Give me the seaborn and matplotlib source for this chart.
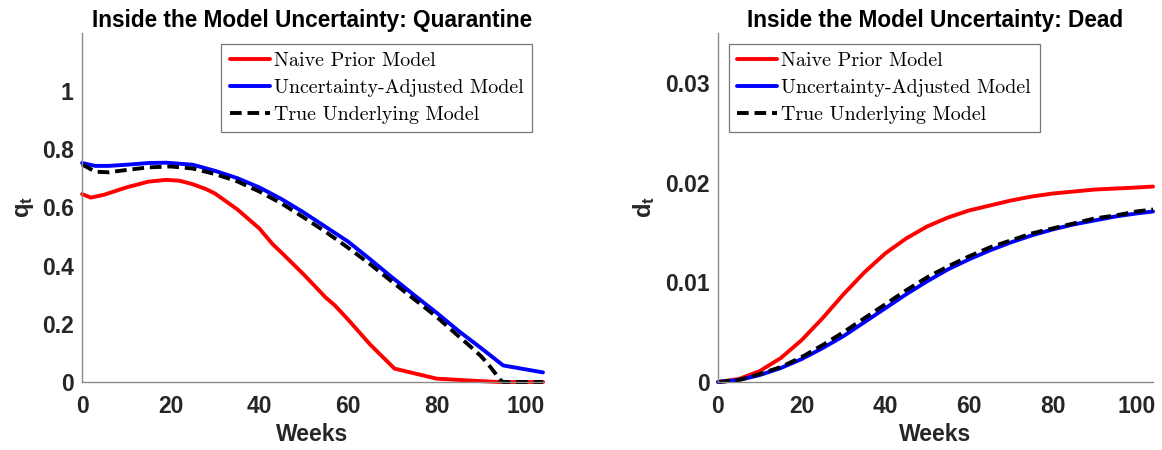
import pandas as pd
import matplotlib
matplotlib.use("Agg")
import matplotlib.pyplot as plt
import seaborn as sns

# -----------------------------------
# DATA
# -----------------------------------

# quarantine panel
q_naive_weeks = [0, 2, 5, 10, 15, 19, 22, 25, 28, 30, 35, 40, 43, 45, 50, 55,
                 57, 60, 65, 70.5, 80, 90, 94, 104]
q_naive = [0.646, 0.634, 0.644, 0.669, 0.689, 0.695, 0.692, 0.680, 0.663,
           0.648, 0.594, 0.528, 0.474, 0.445, 0.370, 0.290, 0.264, 0.215,
           0.129, 0.046, 0.0115, 0.003, 0.0, 0.0]

q_adj_weeks = [0, 3, 6, 10, 15, 19, 25, 30, 35, 40, 45, 50, 55, 60, 65, 70,
               75, 80, 85, 90, 95, 104]
q_adj = [0.753, 0.743, 0.743, 0.747, 0.753, 0.754, 0.747, 0.726, 0.701,
         0.669, 0.629, 0.583, 0.533, 0.483, 0.422, 0.359, 0.298, 0.238,
         0.175, 0.117, 0.057, 0.033]

q_true_weeks = [0, 3, 6, 10, 15, 20, 25, 30, 35, 40, 45, 50, 55, 60, 65, 70,
                75, 80, 85, 88, 90, 92, 94.5, 95, 104]
q_true = [0.748, 0.723, 0.721, 0.729, 0.738, 0.741, 0.734, 0.715, 0.690,
          0.655, 0.614, 0.566, 0.516, 0.462, 0.405, 0.344, 0.284, 0.224,
          0.157, 0.117, 0.089, 0.054, 0.005, 0.0, 0.0]

# dead panel
d_weeks = [0, 5, 10, 15, 20, 25, 30, 35, 40, 45, 50, 55, 60, 65, 70, 75, 80,
           85, 90, 95, 100, 104]
d_naive = [0.0, 0.0003, 0.0011, 0.0024, 0.0042, 0.0064, 0.0088, 0.0110,
           0.0129, 0.0144, 0.0156, 0.0165, 0.0172, 0.0177, 0.0182, 0.0186,
           0.0189, 0.0191, 0.0193, 0.0194, 0.0195, 0.0196]
d_adj = [0.0, 0.0002, 0.0007, 0.0014, 0.0023, 0.0034, 0.0046, 0.0060, 0.0074,
         0.0088, 0.0101, 0.0113, 0.0123, 0.0132, 0.0140, 0.0147, 0.0153,
         0.0158, 0.0162, 0.0166, 0.0169, 0.0171]
d_true = [0.0, 0.0002, 0.0008, 0.0015, 0.0025, 0.0037, 0.0050, 0.0064, 0.0078,
          0.0092, 0.0105, 0.0116, 0.0126, 0.0135, 0.0142, 0.0149, 0.0154,
          0.0159, 0.0164, 0.0167, 0.0171, 0.0173]

labels = ["Naive Prior Model", "Uncertainty-Adjusted Model", "True Underlying Model"]
colors = ["#ff0000", "#0000ff", "#000000"]

# -----------------------------------
# STYLE
# -----------------------------------

sns.set_style("white")
plt.rcParams["font.family"] = ["Liberation Sans", "DejaVu Sans"]
plt.rcParams["mathtext.fontset"] = "custom"
plt.rcParams["mathtext.bf"] = "Liberation Sans:bold"
plt.rcParams["mathtext.rm"] = "Liberation Sans:bold"

fig = plt.figure(figsize=(11.62, 4.5), dpi=100)
ax1 = fig.add_axes([0.0706, 0.1511, 0.3967, 0.7756])
ax2 = fig.add_axes([0.6179, 0.1511, 0.3744, 0.7756])


def draw_panel(ax, series, title, ylabel, ylim, yticks, yfmt, leg_loc, ylab_x):
    for (wk, vals), lab, col in zip(series, labels, colors):
        sns.lineplot(x=wk, y=vals, color=col, linewidth=2.8, label=lab,
                     ax=ax, clip_on=False)
    ax.lines[-1].set_dashes((3, 1.5))

    ax.set_xlim(0, 104)
    ax.set_ylim(*ylim)
    ax.set_xticks([0, 20, 40, 60, 80, 100])
    ax.set_yticks(yticks)
    ax.set_yticklabels([yfmt(v) for v in yticks])

    for s in ["top", "right"]:
        ax.spines[s].set_visible(False)
    for s in ["left", "bottom"]:
        ax.spines[s].set_color("#8a8a8a")
        ax.spines[s].set_linewidth(1.0)

    ax.tick_params(axis="both", direction="in", length=4, width=0.8,
                   color="#8a8a8a", labelsize=16.5, labelcolor="#262626")
    ax.tick_params(axis="x", pad=9)
    ax.tick_params(axis="y", pad=6)
    for t in ax.get_xticklabels() + ax.get_yticklabels():
        t.set_fontweight("bold")

    ax.set_title(title, fontsize=16.3, fontweight="bold", color="black", pad=4)
    ax.set_xlabel("Weeks", fontsize=16.5, fontweight="bold", color="#262626",
                  labelpad=4)
    ax.set_ylabel(ylabel, fontsize=17, color="#262626")
    ax.yaxis.set_label_coords(ylab_x, 0.5)

    leg = ax.legend(loc=leg_loc, prop={"family": "cmr10", "size": 14.4},
                    frameon=True, fancybox=False, framealpha=1,
                    edgecolor="#777777", borderpad=0.42, labelspacing=0.44,
                    handlelength=2.0, handletextpad=0.2, borderaxespad=0.55)
    leg.get_frame().set_linewidth(0.9)
    for t in leg.get_texts():
        t.set_color("black")


draw_panel(ax1,
           [(q_naive_weeks, q_naive), (q_adj_weeks, q_adj), (q_true_weeks, q_true)],
           "Inside the Model Uncertainty: Quarantine", r"$\mathbf{q_t}$",
           (0, 1.2), [0, 0.2, 0.4, 0.6, 0.8, 1.0],
           lambda v: "0" if v == 0 else ("1" if v == 1 else f"{v:.1f}"),
           "upper right", -0.1)

draw_panel(ax2,
           [(d_weeks, d_naive), (d_weeks, d_adj), (d_weeks, d_true)],
           "Inside the Model Uncertainty: Dead", r"$\mathbf{d_t}$",
           (0, 0.035), [0, 0.01, 0.02, 0.03],
           lambda v: "0" if v == 0 else f"{v:.2f}",
           "upper left", -0.14)

fig.savefig("out.png", dpi=100)
